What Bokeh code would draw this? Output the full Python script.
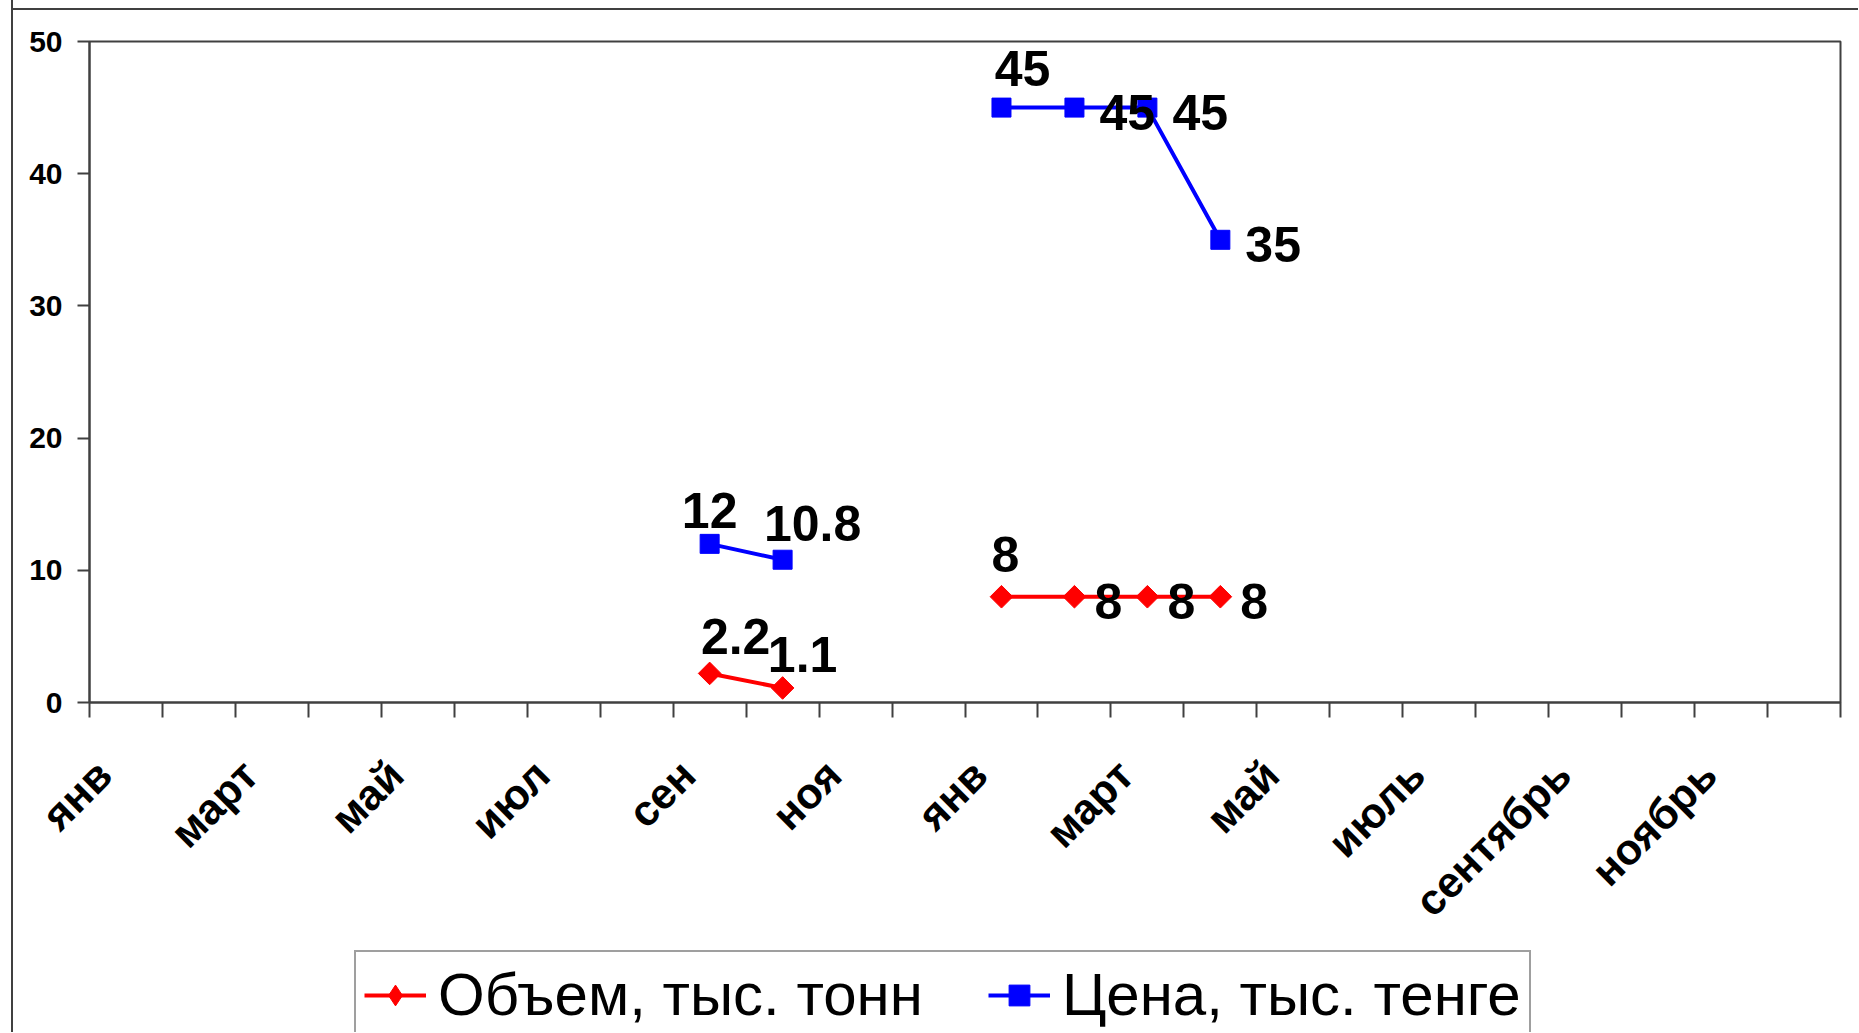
import math
from bokeh.plotting import figure
from bokeh.layouts import column
from bokeh.models import ColumnDataSource, Range1d, FixedTicker, Legend, LegendItem
from bokeh.core.properties import value
from bokeh.embed import file_html
from bokeh.resources import INLINE

nan = float("nan")

# ---------------- data ----------------
n_months = 24
tick_labels = ["янв", "март", "май", "июл", "сен", "ноя",
               "янв", "март", "май", "июль", "сентябрь", "ноябрь"]
volume = [nan] * 8 + [2.2, 1.1] + [nan] * 2 + [8, 8, 8, 8] + [nan] * 8
price = [nan] * 8 + [12, 10.8] + [nan] * 2 + [45, 45, 45, 35] + [nan] * 8
volume_name = "Объем, тыс. тонн"
price_name = "Цена, тыс. тенге"
y_ticks = [0, 10, 20, 30, 40, 50]

# data-label placement (style only): index -> (side, dx px, dy px)
volume_label_nudge = {8: ("above", 26, -37), 9: ("above", 20, -33), 12: ("above", 4, -42),
                      13: ("right", 20, 5), 14: ("right", 20, 5), 15: ("right", 20, 5)}
price_label_nudge = {8: ("above", 0, -33), 9: ("above", 30, -36), 12: ("above", 21, -39),
                     13: ("right", 25, 5), 14: ("right", 25, 5), 15: ("right", 25, 5)}

xs = [i + 0.5 for i in range(n_months)]
label_ticks = [2 * k + 0.2 for k in range(len(tick_labels))]

AXIS = "#404040"
FONT = "Liberation Sans"
W = 1858
H_MAIN = 946
H_LEG = 86

p = figure(width=W, height=H_MAIN, x_range=Range1d(0, n_months), y_range=Range1d(0, 50),
           output_backend="svg", toolbar_location=None,
           min_border_left=89, min_border_right=18, min_border_top=41,
           min_border_bottom=H_MAIN - 702)
p.xgrid.visible = False
p.ygrid.visible = False
p.outline_line_color = AXIS
p.outline_line_width = 2
p.background_fill_color = "white"
p.border_fill_color = None

xa = p.xaxis[0]
xa.ticker = FixedTicker(ticks=label_ticks, minor_ticks=list(range(n_months + 1)))
xa.major_label_overrides = {t: lab for t, lab in zip(label_ticks, tick_labels)}
xa.major_label_orientation = math.pi / 4
xa.major_tick_out = 0
xa.major_tick_in = 0
xa.minor_tick_out = 15
xa.minor_tick_in = 0
xa.minor_tick_line_color = AXIS
xa.minor_tick_line_width = 2
xa.axis_line_color = AXIS
xa.axis_line_width = 2
xa.major_label_text_font = FONT
xa.major_label_text_font_style = "bold"
xa.major_label_text_font_size = "43px"
xa.major_label_text_color = "black"
xa.major_label_standoff = 50

ya = p.yaxis[0]
ya.ticker = FixedTicker(ticks=y_ticks, minor_ticks=[])
ya.major_tick_out = 12
ya.major_tick_in = 0
ya.major_tick_line_color = AXIS
ya.major_tick_line_width = 2
ya.axis_line_color = AXIS
ya.axis_line_width = 2
ya.major_label_text_font = FONT
ya.major_label_text_font_style = "bold"
ya.major_label_text_font_size = "30px"
ya.major_label_text_color = "black"
ya.major_label_standoff = 15

src = ColumnDataSource(dict(x=xs, volume=volume, price=price))

line_kw = dict(line_width=4)
vol_marker = dict(marker="square", angle=math.pi / 4, size=16, fill_color="red", line_color="red")
price_marker = dict(marker="square", size=19, fill_color="blue", line_color="blue")

p.line("x", "volume", source=src, line_color="red", **line_kw)
p.scatter("x", "volume", source=src, **vol_marker)
p.line("x", "price", source=src, line_color="blue", **line_kw)
p.scatter("x", "price", source=src, **price_marker)


def add_labels(values, nudge):
    for side, align in (("above", "center"), ("right", "left")):
        d = dict(x=[], y=[], text=[], dx=[], dy=[])
        for i, v in enumerate(values):
            if v != v or i not in nudge or nudge[i][0] != side:
                continue
            d["x"].append(xs[i])
            d["y"].append(v)
            d["text"].append(f"{v:g}")
            d["dx"].append(nudge[i][1])
            d["dy"].append(nudge[i][2])
        p.text("x", "y", text="text", x_offset="dx", y_offset="dy",
               source=ColumnDataSource(d), text_font=value(FONT), text_font_size="50px",
               text_font_style="bold",
               text_align=align, text_baseline="alphabetic", text_color="black")


add_labels(volume, volume_label_nudge)
add_labels(price, price_label_nudge)

# ---------------- legend strip (cut off at the bottom like the reference) ----------------
# same series drawn outside this strip's visible range, only so the legend shows their glyphs
lg = figure(width=W, height=H_LEG, x_range=Range1d(-2, -1), y_range=Range1d(-2, -1),
            output_backend="svg", toolbar_location=None,
            x_axis_location=None, y_axis_location=None,
            min_border_left=0, min_border_right=0, min_border_top=0, min_border_bottom=0)
lg.xgrid.visible = False
lg.ygrid.visible = False
lg.outline_line_color = None
lg.background_fill_color = None
lg.border_fill_color = None
l1 = lg.line("x", "volume", source=src, line_color="red", **line_kw)
m1 = lg.scatter("x", "volume", source=src, marker="diamond", size=16,
                fill_color="red", line_color="red")
l2 = lg.line("x", "price", source=src, line_color="blue", **line_kw)
m2 = lg.scatter("x", "price", source=src, **price_marker)

legend = Legend(items=[LegendItem(label=volume_name, renderers=[l1, m1]),
                       LegendItem(label=price_name, renderers=[l2, m2])],
                orientation="horizontal", location=(265, -7),
                label_text_font=FONT, label_text_font_size="60px", label_text_color="black",
                glyph_width=62, glyph_height=52, label_standoff=12, spacing=65,
                padding=8, margin=0, border_line_color=AXIS, border_line_width=2,
                background_fill_color="white", background_fill_alpha=1)
lg.add_layout(legend)

layout = column(p, lg, spacing=0, styles={
    "background-color": "white",
    "background-image": "linear-gradient(#404040,#404040),linear-gradient(#404040,#404040)",
    "background-size": "2px 100%, calc(100% - 11px) 2px",
    "background-position": "11px 0px, 11px 8px",
    "background-repeat": "no-repeat",
})

open("out.html", "w").write(file_html(layout, INLINE))
